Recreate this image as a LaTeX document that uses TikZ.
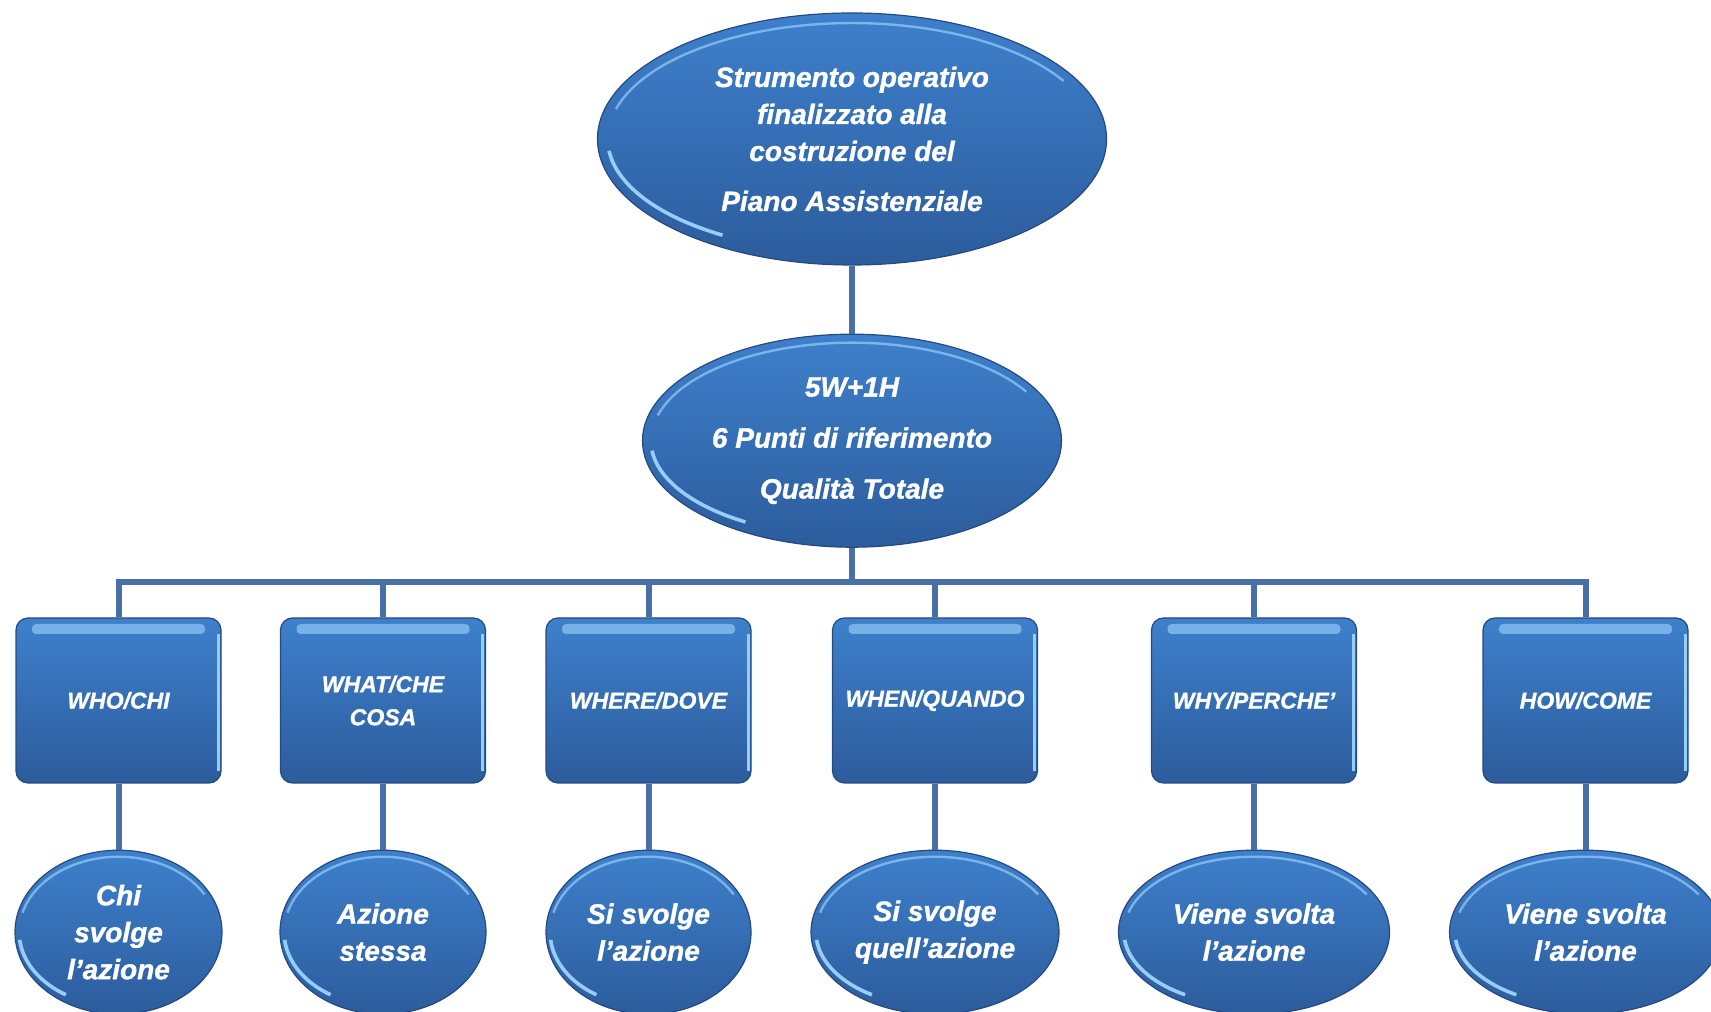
\documentclass[tikz,border=0pt]{standalone}
\usepackage{fontspec}
\setmainfont[BoldItalicFeatures={FakeBold=1.2}]{Liberation Sans}
\usetikzlibrary{positioning, shapes}

\definecolor{tophue}{RGB}{62,128,204}
\definecolor{bothue}{RGB}{44,92,156}
\definecolor{edge}{RGB}{36,74,128}
\definecolor{shine}{RGB}{150,205,250}
\definecolor{wire}{RGB}{72,112,166}

\tikzset{
  bubble/.style 2 args={ellipse, minimum width=#1, minimum height=#2, inner sep=0pt,
    top color=tophue, bottom color=bothue, draw=edge, line width=0.6pt,
    text=white, align=center, font=\fontsize{14}{18.5}\selectfont\bfseries\itshape,
    path picture={
      \draw[shine, line width=1.2pt, opacity=.7] (path picture bounding box.center) ++(165:0.48*#1 and 0.46*#2) arc[start angle=165, end angle=30, x radius=0.48*#1, y radius=0.46*#2];
      \draw[shine, line width=1.8pt] (path picture bounding box.center) ++(186:0.48*#1 and 0.45*#2) arc[start angle=186, end angle=238, x radius=0.48*#1, y radius=0.45*#2];
    }},
  panel/.style={rectangle, rounded corners=6pt, minimum width=102.5pt, minimum height=82.5pt, inner sep=2pt,
    top color=tophue, bottom color=bothue, draw=edge, line width=0.6pt,
    text=white, align=center, font=\fontsize{11.5}{16.5}\selectfont\bfseries\itshape,
    path picture={
      \fill[shine, opacity=.65, rounded corners=2pt] ([xshift=8pt,yshift=-3pt]path picture bounding box.north west) rectangle ([xshift=-8pt,yshift=-8pt]path picture bounding box.north east);
      \draw[shine, line width=1.5pt] ([xshift=-1.5pt,yshift=-8pt]path picture bounding box.north east) -- ([xshift=-1.5pt,yshift=6pt]path picture bounding box.south east);
    }},
  link/.style={draw=wire, line width=3pt},
}

\begin{document}
\begin{tikzpicture}
    \useasboundingbox (0,0) rectangle (855.5pt,505.5pt);

    \node[bubble={254.5pt}{126pt}] (s) at (426pt,436pt) {Strumento operativo\\finalizzato alla\\costruzione del\\[6.5pt]Piano Assistenziale};
    \node[bubble={209.5pt}{106.5pt}, font=\fontsize{14}{25.5}\selectfont\bfseries\itshape, below=34pt of s] (w) {5W+1H\\6 Punti di riferimento\\Qualità Totale};

    \node[panel] (q1) at (59.25pt,155.25pt) {WHO/CHI};
    \node[panel] (q2) at (191.5pt,155.25pt) {WHAT/CHE\\COSA};
    \node[panel] (q3) at (324.25pt,155.25pt) {WHERE/DOVE};
    \node[panel] (q4) at (467.5pt,155.25pt) {WHEN/QUANDO};
    \node[panel] (q5) at (627pt,155.25pt) {WHY/PERCHE’};
    \node[panel] (q6) at (792.75pt,155.25pt) {HOW/COME};

    \node[bubble={103.5pt}{82pt}, below=33pt of q1] (a1) {Chi\\svolge\\l’azione};
    \node[bubble={103pt}{82pt}, below=33pt of q2] (a2) {Azione\\stessa};
    \node[bubble={102.5pt}{82pt}, below=33pt of q3] (a3) {Si svolge\\l’azione};
    \node[bubble={124pt}{82pt}, below=33pt of q4] (a4) {Si svolge\\quell’azione};
    \node[bubble={135.5pt}{82pt}, below=33pt of q5] (a5) {Viene svolta\\l’azione};
    \node[bubble={136pt}{82pt}, below=33pt of q6] (a6) {Viene svolta\\l’azione};

    \coordinate (bus) at (426pt,214.5pt);
    \draw[link] (s.south) -- (w.north);
    \draw[link] (w.south) -- (bus);
    \draw[link] (q1.north) |- (bus);
    \draw[link] (q2.north) |- (bus);
    \draw[link] (q3.north) |- (bus);
    \draw[link] (q4.north) |- (bus);
    \draw[link] (q5.north) |- (bus);
    \draw[link] (q6.north) |- (bus);

    \draw[link] (q1.south) -- (a1.north);
    \draw[link] (q2.south) -- (a2.north);
    \draw[link] (q3.south) -- (a3.north);
    \draw[link] (q4.south) -- (a4.north);
    \draw[link] (q5.south) -- (a5.north);
    \draw[link] (q6.south) -- (a6.north);
\end{tikzpicture}
\end{document}
